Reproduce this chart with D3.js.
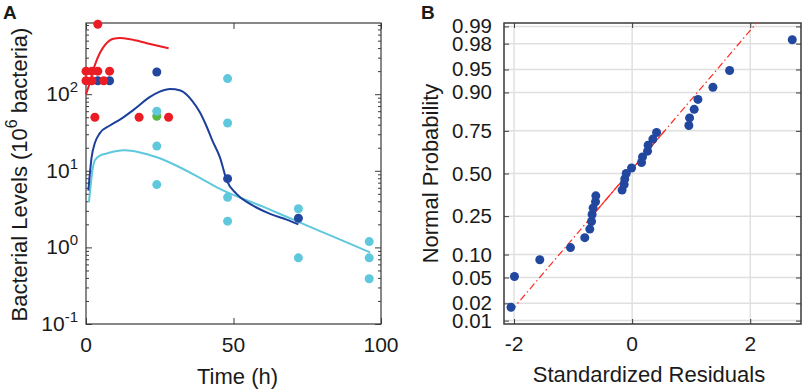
<!DOCTYPE html>
<html>
<head>
<meta charset="utf-8" />
<title></title>
<script src="https://d3js.org/d3.v7.min.js"></script>
<style type="text/css">
    body { margin: 0; background: #fff; }
    svg text { font-family: "Liberation Sans", Arial, sans-serif; fill: #1a1a1a; }
</style>
</head>
<body>
<div id="chart"></div>
<script type="text/javascript">

    // panel A data (time in h, bacteria in 10^6)
    var redTimes = [0, 2, 4, 8, 0, 2, 6, 4, 3, 18, 28];
    var redVals = [200, 200, 200, 200, 150, 150, 150, 820, 50, 50, 50];
    var blueTimes = [4, 8, 24, 48, 72];
    var blueVals = [150, 150, 195, 7.9, 2.4];
    var cyanTimes = [24, 24, 24, 48, 48, 48, 48, 72, 72, 96, 96, 96];
    var cyanVals = [60, 21, 6.6, 160, 42, 4.5, 2.2, 3.2, 0.73, 1.19, 0.73, 0.39];
    var greenTimes = [24];
    var greenVals = [54];

    // model fits
    var redFitT = [0, 1.4, 3, 4.7, 6.4, 9.3, 11.5, 15, 20.6, 28];
    var redFitV = [100, 145, 240, 345, 437, 528, 540, 520, 463, 398];
    var blueFitT = [0.8, 1.9, 3, 4.7, 8.1, 12, 16, 21.7, 25, 28.5, 32, 36, 38.6, 41, 43, 45.4, 47.7, 51, 55.6, 62.4, 68, 72];
    var blueFitV = [5.5, 15, 23, 31, 39, 48, 62, 92, 108, 117, 112, 82, 58, 37, 24, 15, 7.5, 5, 3.7, 2.74, 2.3, 2.0];
    var cyanFitT = [1, 1.4, 2, 3, 5, 7, 10, 13.2, 18, 24, 30, 38.6, 45.4, 60, 72, 84, 96.3];
    var cyanFitV = [3.9, 5.5, 9, 13.7, 16, 16.8, 18, 18.5, 17.5, 15, 12, 8.1, 5.8, 3.4, 2.15, 1.37, 0.86];

    var xTicksA = [0, 50, 100];
    var decadesA = [-1, 0, 1, 2];

    // panel B data (standardized residuals)
    var residuals = [-2.051, -1.993, -1.564, -1.044, -0.802, -0.717, -0.688, -0.678, -0.661, -0.620,
        -0.615, -0.170, -0.135, -0.125, -0.100, -0.010, 0.159, 0.176, 0.261, 0.271,
        0.351, 0.414, 0.961, 0.973, 1.051, 1.114, 1.368, 1.651, 2.712];
    var probTicks = [0.01, 0.02, 0.05, 0.10, 0.25, 0.50, 0.75, 0.90, 0.95, 0.98, 0.99];
    var xTicksB = [-2, 0, 2];

    var colRed = "#ec1c24";
    var colBlue = "#22479e";
    var colBlueLine = "#1c3f9c";
    var colCyan = "#5fc8dc";
    var colGreen = "#5cb646";
    var axisCol = "#3a3a3a";

    var width = 803;
    var height = 391;
    var svg = d3.select("#chart")
        .append("svg")
        .attr("width", width)
        .attr("height", height);

    // inverse normal cdf (Acklam)
    function invNorm(p) {
        var a = [-3.969683028665376e+01, 2.209460984245205e+02, -2.759285104469687e+02, 1.383577518672690e+02, -3.066479806614716e+01, 2.506628277459239e+00];
        var b = [-5.447609879822406e+01, 1.615858368580409e+02, -1.556989798598866e+02, 6.680131188771972e+01, -1.328068155288572e+01];
        var c = [-7.784894002430293e-03, -3.223964580411365e-01, -2.400758277161838e+00, -2.549732539343734e+00, 4.374664141464968e+00, 2.938163982698783e+00];
        var d = [7.784695709041462e-03, 3.224671290700398e-01, 2.445134137142996e+00, 3.754408661907416e+00];
        var q, r;
        if (p < 0.02425) {
            q = Math.sqrt(-2 * Math.log(p));
            return (((((c[0] * q + c[1]) * q + c[2]) * q + c[3]) * q + c[4]) * q + c[5]) / ((((d[0] * q + d[1]) * q + d[2]) * q + d[3]) * q + 1);
        }
        if (p > 1 - 0.02425) {
            return -invNorm(1 - p);
        }
        q = p - 0.5;
        r = q * q;
        return (((((a[0] * r + a[1]) * r + a[2]) * r + a[3]) * r + a[4]) * r + a[5]) * q / (((((b[0] * r + b[1]) * r + b[2]) * r + b[3]) * r + b[4]) * r + 1);
    }

    function styleAxis(g) {
        g.select(".domain").remove();
        g.selectAll(".tick line").attr("stroke", axisCol);
        g.selectAll(".tick text").remove();
    }

    // ---------------- panel A ----------------
    var pA = { left: 86, right: 381, top: 23, bottom: 324 };
    var xA = d3.scaleLinear().domain([0, 100]).range([pA.left, pA.right]);
    var yA = d3.scaleLog().domain([0.1, 850]).range([pA.bottom, pA.top]);

    var majorA = decadesA.map(function (e) { return Math.pow(10, e); });
    var minorA = yA.ticks().filter(function (v) {
        return Math.abs(Math.log10(v) - Math.round(Math.log10(v))) > 1e-6;
    });

    var gA = svg.append("g");

    gA.append("g").attr("transform", "translate(0," + pA.bottom + ")")
        .call(d3.axisBottom(xA).tickValues(xTicksA).tickSize(-6)).call(styleAxis);
    gA.append("g").attr("transform", "translate(0," + pA.top + ")")
        .call(d3.axisTop(xA).tickValues(xTicksA).tickSize(-6)).call(styleAxis);
    gA.append("g").attr("transform", "translate(" + pA.left + ",0)")
        .call(d3.axisLeft(yA).tickValues(majorA).tickSize(-6)).call(styleAxis);
    gA.append("g").attr("transform", "translate(" + pA.left + ",0)")
        .call(d3.axisLeft(yA).tickValues(minorA).tickSize(-3)).call(styleAxis);
    gA.append("g").attr("transform", "translate(" + pA.right + ",0)")
        .call(d3.axisRight(yA).tickValues(majorA).tickSize(-6)).call(styleAxis);
    gA.append("g").attr("transform", "translate(" + pA.right + ",0)")
        .call(d3.axisRight(yA).tickValues(minorA).tickSize(-3)).call(styleAxis);

    gA.append("rect")
        .attr("x", pA.left).attr("y", pA.top)
        .attr("width", pA.right - pA.left).attr("height", pA.bottom - pA.top)
        .attr("fill", "none").attr("stroke", axisCol).attr("stroke-width", 1.2);

    // tick labels
    gA.selectAll(".xlabA").data(xTicksA).enter().append("text")
        .attr("x", function (d) { return xA(d); })
        .attr("y", pA.bottom + 28)
        .attr("text-anchor", "middle")
        .attr("font-size", "21px")
        .text(function (d) { return d; });

    var ylabA = gA.selectAll(".ylabA").data(decadesA).enter().append("text")
        .attr("x", pA.left - 8)
        .attr("y", function (d) { return yA(Math.pow(10, d)) + 7; })
        .attr("text-anchor", "end")
        .attr("font-size", "21px");
    ylabA.append("tspan").text("10");
    ylabA.append("tspan").attr("dy", -9).attr("font-size", "15px").text(function (d) { return d; });

    gA.append("text")
        .attr("x", (pA.left + pA.right) / 2 + 4)
        .attr("y", 384)
        .attr("text-anchor", "middle")
        .attr("font-size", "22px")
        .text("Time (h)");

    var ytitleA = gA.append("text")
        .attr("transform", "translate(27," + ((pA.top + pA.bottom) / 2 + 1) + ") rotate(-90)")
        .attr("text-anchor", "middle")
        .attr("font-size", "22px");
    ytitleA.append("tspan").text("Bacterial Levels (10");
    ytitleA.append("tspan").attr("dy", -10).attr("font-size", "16px").text("6");
    ytitleA.append("tspan").attr("dy", 10).text(" bacteria)");

    // fitted curves
    var lineA = d3.line()
        .x(function (d) { return xA(d[0]); })
        .y(function (d) { return yA(d[1]); })
        .curve(d3.curveMonotoneX);

    var fits = [
        { t: cyanFitT, v: cyanFitV, c: colCyan },
        { t: blueFitT, v: blueFitV, c: colBlueLine },
        { t: redFitT, v: redFitV, c: colRed }
    ];
    fits.forEach(function (f) {
        gA.append("path")
            .datum(d3.zip(f.t, f.v))
            .attr("d", lineA)
            .attr("fill", "none")
            .attr("stroke", f.c)
            .attr("stroke-width", 2);
    });

    // observations
    var obs = [
        { t: greenTimes, v: greenVals, c: colGreen, dy: 1.5 },
        { t: cyanTimes, v: cyanVals, c: colCyan, dy: 0 },
        { t: blueTimes, v: blueVals, c: colBlue, dy: 0 },
        { t: redTimes, v: redVals, c: colRed, dy: 0 }
    ];
    obs.forEach(function (o) {
        gA.selectAll(null).data(d3.zip(o.t, o.v)).enter().append("circle")
            .attr("cx", function (d) { return xA(d[0]); })
            .attr("cy", function (d) { return yA(d[1]) + o.dy; })
            .attr("r", 4.5)
            .attr("fill", o.c);
    });

    gA.append("text")
        .attr("x", 3).attr("y", 19)
        .attr("font-size", "19px").attr("font-weight", "bold")
        .text("A");

    // ---------------- panel B ----------------
    var pB = { left: 504, right: 801, top: 23, bottom: 324 };
    var xB = d3.scaleLinear().domain([-2.17, 2.86]).range([pB.left, pB.right]);
    var yB = d3.scaleLinear().domain([-2.38, 2.38]).range([pB.bottom, pB.top]);

    var gB = svg.append("g");

    // grid
    gB.selectAll(".hgrid").data(probTicks).enter().append("line")
        .attr("x1", pB.left).attr("x2", pB.right)
        .attr("y1", function (d) { return yB(invNorm(d)); })
        .attr("y2", function (d) { return yB(invNorm(d)); })
        .attr("stroke", "#e0e0e0").attr("stroke-width", 1.5);
    gB.selectAll(".vgrid").data(xTicksB).enter().append("line")
        .attr("x1", function (d) { return xB(d); })
        .attr("x2", function (d) { return xB(d); })
        .attr("y1", pB.top).attr("y2", pB.bottom)
        .attr("stroke", "#e0e0e0").attr("stroke-width", 1.5);

    var zTicks = probTicks.map(invNorm);
    gB.append("g").attr("transform", "translate(0," + pB.bottom + ")")
        .call(d3.axisBottom(xB).tickValues(xTicksB).tickSize(-5)).call(styleAxis);
    gB.append("g").attr("transform", "translate(0," + pB.top + ")")
        .call(d3.axisTop(xB).tickValues(xTicksB).tickSize(-5)).call(styleAxis);
    gB.append("g").attr("transform", "translate(" + pB.left + ",0)")
        .call(d3.axisLeft(yB).tickValues(zTicks).tickSize(-5)).call(styleAxis);
    gB.append("g").attr("transform", "translate(" + pB.right + ",0)")
        .call(d3.axisRight(yB).tickValues(zTicks).tickSize(-5)).call(styleAxis);

    gB.append("rect")
        .attr("x", pB.left).attr("y", pB.top)
        .attr("width", pB.right - pB.left).attr("height", pB.bottom - pB.top)
        .attr("fill", "none").attr("stroke", axisCol).attr("stroke-width", 1.5);

    gB.selectAll(".xlabB").data(xTicksB).enter().append("text")
        .attr("x", function (d) { return xB(d); })
        .attr("y", pB.bottom + 27)
        .attr("text-anchor", "middle")
        .attr("font-size", "21px")
        .text(function (d) { return d < 0 ? "-" + Math.abs(d) : d; });

    gB.selectAll(".ylabB").data(probTicks).enter().append("text")
        .attr("x", pB.left - 12)
        .attr("y", function (d) { return yB(invNorm(d)) + 7; })
        .attr("text-anchor", "end")
        .attr("font-size", "20.5px")
        .text(d3.format(".2f"));

    gB.append("text")
        .attr("x", 649)
        .attr("y", 382)
        .attr("text-anchor", "middle")
        .attr("font-size", "22px")
        .text("Standardized Residuals");

    gB.append("text")
        .attr("transform", "translate(438," + ((pB.top + pB.bottom) / 2) + ") rotate(-90)")
        .attr("text-anchor", "middle")
        .attr("font-size", "22px")
        .text("Normal Probability");

    // reference line through quartiles
    var sorted = residuals.slice().sort(d3.ascending);
    var n = sorted.length;
    function prctile(arr, p) {
        var pos = arr.length * p - 0.5;
        var lo = Math.floor(pos);
        return arr[lo] + (pos - lo) * (arr[lo + 1] - arr[lo]);
    }
    var q1 = prctile(sorted, 0.25);
    var q3 = prctile(sorted, 0.75);
    var zq = invNorm(0.75);
    var slope = (q3 - q1) / (2 * zq);
    var mid = (q1 + q3) / 2;
    function zOf(x) { return (x - mid) / slope; }

    svg.append("clipPath").attr("id", "clipB").append("rect")
        .attr("x", pB.left).attr("y", pB.top)
        .attr("width", pB.right - pB.left).attr("height", pB.bottom - pB.top);

    var refG = gB.append("g").attr("clip-path", "url(#clipB)");
    refG.append("line")
        .attr("x1", xB(sorted[0])).attr("y1", yB(zOf(sorted[0])))
        .attr("x2", xB(sorted[n - 1])).attr("y2", yB(zOf(sorted[n - 1])))
        .attr("stroke", "#ff2d20").attr("stroke-width", 1.2)
        .attr("stroke-dasharray", "7,3,1.5,3");
    refG.append("line")
        .attr("x1", xB(q1)).attr("y1", yB(zOf(q1)))
        .attr("x2", xB(q3)).attr("y2", yB(zOf(q3)))
        .attr("stroke", "#ff2d20").attr("stroke-width", 1.2);

    gB.selectAll(".ptB").data(sorted).enter().append("circle")
        .attr("cx", function (d) { return xB(d); })
        .attr("cy", function (d, i) { return yB(invNorm((i + 0.5) / n)); })
        .attr("r", 4.5)
        .attr("fill", colBlue);

    gB.append("text")
        .attr("x", 421).attr("y", 19)
        .attr("font-size", "19px").attr("font-weight", "bold")
        .text("B");

</script>
</body>
</html>
